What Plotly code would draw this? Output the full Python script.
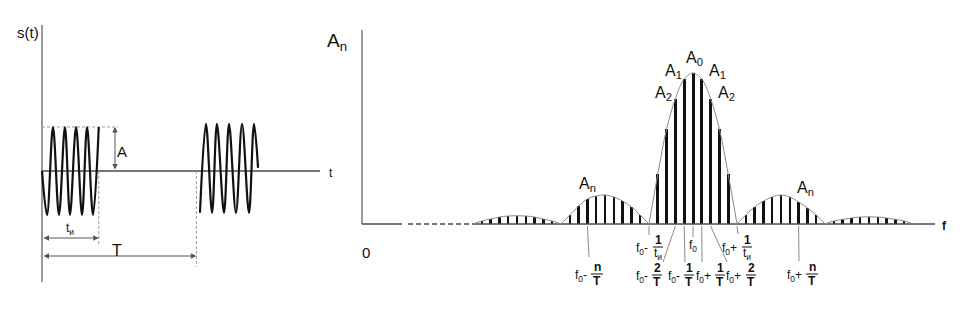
import plotly.graph_objects as go

W, H = 965, 309

# ---------------- time-domain data (t in carrier periods, s in units of A) ----
burst1_t = [0.0, 0.42, 0.92, 1.42, 1.92, 2.34, 2.85, 3.35, 3.77, 4.27, 4.75]
burst1_s = [0.0, -1.0, 1.0, -1.0, 1.0, -1.0, 1.0, -1.0, 1.0, -1.0, 1.0]
burst2_t = [13.22, 13.72, 14.23, 14.64, 15.23, 15.65, 16.23, 16.74, 17.32, 17.74, 18.08]
burst2_s = [-0.95, 1.07, -0.95, 1.07, -0.95, 1.07, -0.95, 1.07, -0.95, 1.07, 0.07]
amp_A = 1.0
pulse_width = 4.75      # t_и
period_T = 12.92        # T

# ---------------- spectrum data (k = (f - f0) * T, amplitude rel. A0) -------
spec_k = [-24, -23, -22, -21, -20, -19, -18, -17, -16,
          -14, -13, -12, -11, -10, -9, -8, -7, -6,
          -4, -3, -2, -1, 0, 1, 2, 3, 4,
          6, 7, 8, 9, 10, 11, 12, 13, 14,
          16, 17, 18, 19, 20, 21, 22, 23, 24]
spec_a = [0.02, 0.033, 0.046, 0.053, 0.055, 0.053, 0.046, 0.033, 0.02,
          0.06, 0.119, 0.166, 0.185, 0.192, 0.179, 0.152, 0.113, 0.06,
          0.33, 0.63, 0.83, 0.96, 1.0, 0.96, 0.83, 0.63, 0.33,
          0.06, 0.113, 0.152, 0.179, 0.192, 0.179, 0.146, 0.106, 0.06,
          0.02, 0.03, 0.04, 0.046, 0.048, 0.046, 0.04, 0.03, 0.02]
lobe_zeros = [-25, -15, -5, 5, 15, 25]


# ---- pixel <-> data helpers (layout only) ----
def tx(px):
    return (px - 42) / 11.95


def ly(py):
    return (171 - py) / 44


def kx(px):
    return (px - 693) / 8.8


def ry(py):
    return (224 - py) / 151


LDOM = [0, 360 / W]
RDOM = [320 / W, 1]

fig = go.Figure()
AX_GRAY = "#808080"
DARK = "#4a4a4a"


def line(x, y, ax="x", ay="y", color=AX_GRAY, width=1.3, dash=None, shape="linear"):
    fig.add_trace(go.Scatter(x=x, y=y, mode="lines", xaxis=ax, yaxis=ay,
                             line=dict(color=color, width=width, dash=dash, shape=shape),
                             hoverinfo="skip", showlegend=False))


# ================= LEFT: time domain =================
line([0, 0], [ly(25), ly(282)], color=AX_GRAY, width=1.6)
line([0, tx(320)], [0, 0], color=DARK, width=1.3)
line([0, tx(118)], [amp_A, amp_A], color="#999999", width=1, dash="3px,2px")
line([pulse_width, pulse_width], [0, ly(245)], color="#999999", width=1, dash="3px,2px")
line([period_T, period_T], [0, ly(267)], color="#999999", width=1, dash="3px,2px")
line(burst1_t, burst1_s, color="#111111", width=2.2, shape="spline")
line(burst2_t, burst2_s, color="#111111", width=2.2, shape="spline")

annotations = []


def arrow(x0, y0, x1, y1, xr="x", yr="y"):
    annotations.append(dict(x=x1, y=y1, ax=x0, ay=y0, xref=xr, yref=yr, axref=xr, ayref=yr,
                            text="", showarrow=True, arrowhead=2, arrowside="end+start",
                            arrowsize=1.1, arrowwidth=1, arrowcolor="#555555"))


arrow(tx(115), 0, tx(115), amp_A)
arrow(0, ly(238), pulse_width, ly(238))
arrow(0, ly(256), period_T, ly(256))

# ================= RIGHT: spectrum =================
line([kx(362), kx(362)], [0, ry(30)], ax="x2", ay="y2", color=AX_GRAY, width=1.6)
line([kx(362), kx(402)], [0, 0], ax="x2", ay="y2", color=DARK, width=1.3)
line([kx(408), kx(475)], [0, 0], ax="x2", ay="y2", color=DARK, width=1.3, dash="5px,3px")
line([kx(475), kx(935)], [0, 0], ax="x2", ay="y2", color=DARK, width=1.3)

# envelope, one smooth arc per lobe
for z0, z1 in zip(lobe_zeros[:-1], lobe_zeros[1:]):
    ex = [z0] + [k for k in spec_k if z0 < k < z1] + [z1]
    ey = [0] + [a for k, a in zip(spec_k, spec_a) if z0 < k < z1] + [0]
    line(ex, ey, ax="x2", ay="y2", color="#8a8a8a", width=1, shape="spline")

fig.add_trace(go.Bar(x=spec_k, y=spec_a, xaxis="x2", yaxis="y2",
                     width=[0.34 if abs(k) < 5 else 0.26 for k in spec_k],
                     marker=dict(color="#111111", line=dict(width=0)),
                     hoverinfo="skip", showlegend=False))

# leader lines to frequency labels
shapes = []
leaders = [(-12, 589, 257), (-5, 649, 235), (-2, 663, 262), (-1, 685, 262),
           (0, 693, 237), (1, 702, 262), (2, 727, 262), (5, 738, 234), (12, 799, 261)]
for k, ex_px, ey_px in leaders:
    shapes.append(dict(type="line", xref="x2", yref="y2", x0=k, y0=ry(226), x1=kx(ex_px), y1=ry(ey_px),
                       line=dict(color="#8a8a8a", width=1)))


# ---------------- text ----------------
FONT = "Arial, Liberation Sans, sans-serif"


def lab(px, py, text, size, xanchor="center", color="#111111"):
    annotations.append(dict(x=px / W, y=1 - py / H, xref="paper", yref="paper", text=text,
                            showarrow=False, xanchor=xanchor, yanchor="middle",
                            font=dict(family=FONT, size=size, color=color)))


def frac(prefix, right_px, cx, py_bar, num, den, barw):
    lab(right_px, py_bar + 2, prefix, 12, xanchor="right")
    lab(cx, py_bar - 7, num, 12)
    lab(cx, py_bar + 7, den, 12)
    yb = 1 - py_bar / H
    shapes.append(dict(type="line", xref="paper", yref="paper", x0=(cx - barw / 2) / W, x1=(cx + barw / 2) / W,
                       y0=yb, y1=yb, line=dict(color="#111111", width=1)))


F0 = "f<sub>0</sub>"
frac(F0 + "-", 589, 597, 274, "<b>n</b>", "<b>T</b>", 12)
frac(F0 + "-", 650, 658, 247, "<b>1</b>", "t<sub>и</sub>", 10)
frac(F0 + "-", 650, 657, 275, "<b>2</b>", "<b>T</b>", 10)
frac(F0 + "-", 682, 689, 275, "<b>1</b>", "<b>T</b>", 10)
lab(693, 246, F0, 12)
frac(F0 + "+", 713, 720, 275, "<b>1</b>", "<b>T</b>", 10)
frac(F0 + "+", 743, 751, 275, "<b>2</b>", "<b>T</b>", 10)
frac(F0 + "+", 739, 747, 247, "<b>1</b>", "t<sub>и</sub>", 10)
frac(F0 + "+", 804, 812, 274, "<b>n</b>", "<b>T</b>", 12)

lab(28, 33, "s(t)", 15)
lab(331, 173, "t", 12)
lab(122, 152, "A", 15)
lab(70, 229, "t<sub>и</sub>", 12)
lab(117, 250, "T", 16)

lab(337, 42, "A<sub>n</sub>", 19)
lab(366, 252, "0", 15)
lab(944, 226, "<b>f</b>", 12)
lab(694, 58, "A<sub>0</sub>", 16)
lab(673, 71, "A<sub>1</sub>", 16)
lab(717, 71, "A<sub>1</sub>", 16)
lab(663, 93, "A<sub>2</sub>", 16)
lab(726, 93, "A<sub>2</sub>", 16)
lab(587, 184, "A<sub>n</sub>", 16)
lab(805, 188, "A<sub>n</sub>", 16)

hidden = dict(visible=False, showgrid=False, zeroline=False, fixedrange=True)
fig.update_layout(
    width=W, height=H, margin=dict(l=0, r=0, t=0, b=0),
    paper_bgcolor="white", plot_bgcolor="rgba(0,0,0,0)",
    showlegend=False, bargap=0,
    xaxis=dict(domain=LDOM, range=[tx(0), tx(360)], **hidden),
    yaxis=dict(domain=[0, 1], range=[ly(309), ly(0)], **hidden),
    xaxis2=dict(domain=RDOM, range=[kx(320), kx(965)], anchor="y2", **hidden),
    yaxis2=dict(domain=[0, 1], range=[ry(309), ry(0)], anchor="x2", **hidden),
    annotations=annotations, shapes=shapes,
)

fig.write_html("out.html")
